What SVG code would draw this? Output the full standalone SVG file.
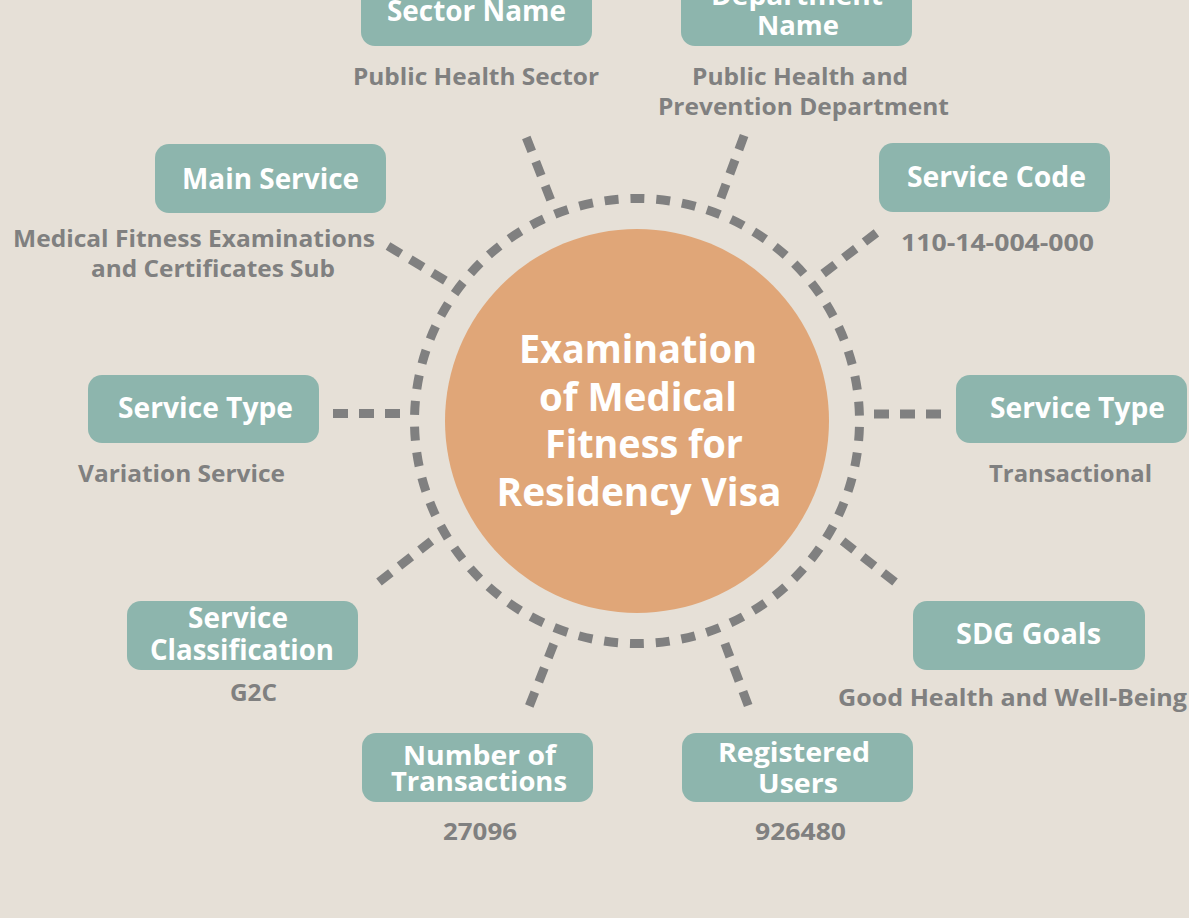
<svg xmlns="http://www.w3.org/2000/svg" width="1189" height="918" viewBox="0 0 1189 918">
<style>
.box{fill:#8DB5AD}
.t{font-family:"Open Sans","Noto Sans","Liberation Sans",sans-serif;font-weight:700;font-size:28px;fill:#FFFFFF;text-anchor:middle}
.tt{font-size:26px}
.v{font-family:"Open Sans","Noto Sans","Liberation Sans",sans-serif;font-weight:700;font-size:24px;fill:#808080;text-anchor:middle}
.c{font-family:"Open Sans","Noto Sans","Liberation Sans",sans-serif;font-weight:700;font-size:40px;fill:#FFFFFF;text-anchor:middle}
.sp{stroke:#808080;stroke-width:9;stroke-dasharray:15 11;fill:none}
</style>
<rect x="0" y="0" width="1189" height="918" fill="#E6E0D7"/>
<g id="connectors">
<circle cx="637" cy="421" r="222.5" fill="none" stroke="#808080" stroke-width="9" stroke-dasharray="14 11.89" stroke-dashoffset="20"/>
<line class="sp" x1="526.3" y1="137.5" x2="550.7" y2="200"/>
<line class="sp" x1="744.1" y1="135.5" x2="720.9" y2="198"/>
<line class="sp" x1="876.4" y1="232.9" x2="822.6" y2="274"/>
<line class="sp" x1="388" y1="246" x2="446" y2="281"/>
<line class="sp" x1="333" y1="413.5" x2="400" y2="413.5"/>
<line class="sp" x1="941" y1="414" x2="874" y2="414"/>
<line class="sp" x1="379" y1="582" x2="431.4" y2="541"/>
<line class="sp" x1="895" y1="582" x2="842.6" y2="541"/>
<line class="sp" x1="529.3" y1="706" x2="553.7" y2="644"/>
<line class="sp" x1="748.2" y1="705.5" x2="724.9" y2="643.5"/>
</g>
<g id="center">
<circle cx="637" cy="421" r="192" fill="#E0A678"/>
<text class="c" x="638" y="363" textLength="238" lengthAdjust="spacingAndGlyphs">Examination</text>
<text class="c" x="638" y="411" textLength="198" lengthAdjust="spacingAndGlyphs">of Medical</text>
<text class="c" x="644" y="458" textLength="198" lengthAdjust="spacingAndGlyphs">Fitness for</text>
<text class="c" x="639" y="506" textLength="285" lengthAdjust="spacingAndGlyphs">Residency Visa</text>
</g>
<g id="sector-name">
<rect class="box" x="361" y="-23" width="231" height="69" rx="14"/>
<text class="t" x="476.5" y="21" textLength="179" lengthAdjust="spacingAndGlyphs">Sector Name</text>
<text class="v" x="476" y="85" textLength="246" lengthAdjust="spacingAndGlyphs">Public Health Sector</text>
</g>
<g id="department-name">
<rect class="box" x="681" y="-23" width="231" height="69" rx="14"/>
<text class="t tt" x="797" y="5" textLength="172" lengthAdjust="spacingAndGlyphs">Department</text>
<text class="t tt" x="798" y="35" textLength="82" lengthAdjust="spacingAndGlyphs">Name</text>
<text class="v" x="800" y="85" textLength="216" lengthAdjust="spacingAndGlyphs">Public Health and</text>
<text class="v" x="803.5" y="115" textLength="291" lengthAdjust="spacingAndGlyphs">Prevention Department</text>
</g>
<g id="main-service">
<rect class="box" x="155" y="144" width="231" height="69" rx="14"/>
<text class="t" x="270.5" y="189" textLength="177" lengthAdjust="spacingAndGlyphs">Main Service</text>
<text class="v" x="194" y="247" textLength="362" lengthAdjust="spacingAndGlyphs">Medical Fitness Examinations</text>
<text class="v" x="213" y="277" textLength="244" lengthAdjust="spacingAndGlyphs">and Certificates Sub</text>
</g>
<g id="service-code">
<rect class="box" x="879" y="143" width="231" height="69" rx="14"/>
<text class="t" x="996.5" y="187" textLength="179" lengthAdjust="spacingAndGlyphs">Service Code</text>
<text class="v" x="997.5" y="251" textLength="193" lengthAdjust="spacingAndGlyphs">110-14-004-000</text>
</g>
<g id="service-type-left">
<rect class="box" x="88" y="375" width="231" height="68" rx="14"/>
<text class="t" x="205.5" y="418" textLength="175" lengthAdjust="spacingAndGlyphs">Service Type</text>
<text class="v" x="181.5" y="482" textLength="207" lengthAdjust="spacingAndGlyphs">Variation Service</text>
</g>
<g id="service-type-right">
<rect class="box" x="956" y="375" width="231" height="68" rx="14"/>
<text class="t" x="1077.5" y="418" textLength="175" lengthAdjust="spacingAndGlyphs">Service Type</text>
<text class="v" x="1070.5" y="482" textLength="163" lengthAdjust="spacingAndGlyphs">Transactional</text>
</g>
<g id="service-classification">
<rect class="box" x="127" y="601" width="231" height="69" rx="14"/>
<text class="t" x="238" y="628" textLength="100" lengthAdjust="spacingAndGlyphs">Service</text>
<text class="t" x="242" y="660" textLength="184" lengthAdjust="spacingAndGlyphs">Classification</text>
<text class="v" x="253.5" y="701" textLength="47" lengthAdjust="spacingAndGlyphs">G2C</text>
</g>
<g id="sdg-goals">
<rect class="box" x="913" y="601" width="232" height="69" rx="14"/>
<text class="t" x="1028.5" y="644" textLength="145" lengthAdjust="spacingAndGlyphs">SDG Goals</text>
<text class="v" x="1012.5" y="706" textLength="349" lengthAdjust="spacingAndGlyphs">Good Health and Well-Being</text>
</g>
<g id="number-of-transactions">
<rect class="box" x="362" y="733" width="231" height="69" rx="14"/>
<text class="t tt" x="479.5" y="765" textLength="153" lengthAdjust="spacingAndGlyphs">Number of</text>
<text class="t tt" x="479" y="791" textLength="176" lengthAdjust="spacingAndGlyphs">Transactions</text>
<text class="v" x="480" y="840" textLength="74" lengthAdjust="spacingAndGlyphs">27096</text>
</g>
<g id="registered-users">
<rect class="box" x="682" y="733" width="231" height="69" rx="14"/>
<text class="t tt" x="794" y="762" textLength="152" lengthAdjust="spacingAndGlyphs">Registered</text>
<text class="t tt" x="798" y="793" textLength="80" lengthAdjust="spacingAndGlyphs">Users</text>
<text class="v" x="800.5" y="840" textLength="91" lengthAdjust="spacingAndGlyphs">926480</text>
</g>
</svg>
